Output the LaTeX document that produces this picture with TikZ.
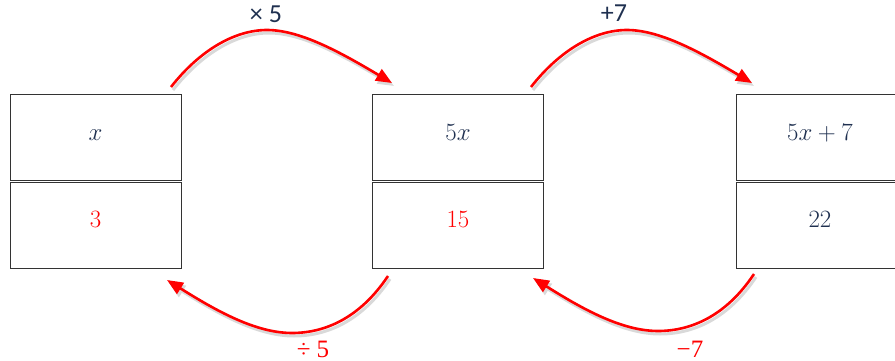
\documentclass[tikz,border=0pt]{standalone}
\usepackage{fontspec}
\usetikzlibrary{arrows.meta}
\newfontfamily\labsans{Carlito}
\newfontfamily\labserif{Liberation Serif}
\definecolor{navy}{HTML}{1F3050}
\definecolor{myred}{HTML}{FF0000}
\definecolor{boxline}{HTML}{333333}
\begin{document}
\begin{tikzpicture}[x=1pt,y=-1pt,
  cell/.style={draw=boxline,line width=1.4pt,minimum width=171pt,minimum height=86pt,inner sep=0pt,anchor=north west},
  txt/.style={anchor=base,inner sep=0pt,font=\fontsize{27}{30}\selectfont},
  labt/.style={anchor=base,inner sep=0pt,text=navy,font=\labsans\fontsize{26}{30}\selectfont},
  labb/.style={anchor=base,inner sep=0pt,text depth=0pt,text=myred,font=\labserif\fontsize{25}{30}\selectfont},
  arr/.style={draw=myred,line width=2.6pt,-{Triangle[length=16pt,width=13pt]},
    preaction={draw=black!15,line width=3pt,transform canvas={shift={(2pt,-3pt)}}}}]
\useasboundingbox (0,0) rectangle (895,361);
% boxes
\node[cell] (xa) at (10,94) {};
\node[cell] (xb) at (10,182) {};
\node[cell] (ya) at (372,94) {};
\node[cell] (yb) at (372,182) {};
\node[cell] (za) at (736,94) {};
\node[cell] (zb) at (736,182) {};
% texts
\node[txt,text=navy] (t1) at (95.5,140) {$x$};
\node[txt,text=myred] (t2) at (95.5,227) {$3$};
\node[txt,text=navy] (t3) at (458,140) {$5x$};
\node[txt,text=myred] (t4) at (458,227) {$15$};
\node[txt,text=navy] (t5) at (820,140) {$5x+7$};
\node[txt,text=navy] (t6) at (820,227) {$22$};
% labels
\node[labt] (l1) at (266,23) {× 5};
\node[labt] (l2) at (614,22) {+7};
\node[labb] (l3) at (313,357) {÷ 5};
\node[labb] (l4) at (690,357) {−7};
% arrow ends
\coordinate (a1s) at (171,87);
\coordinate (a1e) at (392,83);
\coordinate (a2s) at (531,87);
\coordinate (a2e) at (752,83);
\coordinate (a3s) at (388,276);
\coordinate (a3e) at (167,280);
\coordinate (a4s) at (754,274);
\coordinate (a4e) at (533,278);
% arrows
\draw[arr] (a1s) .. controls (200,50) and (235,30) .. (267,30) .. controls (300,30) and (340,52) .. (a1e);
\draw[arr] (a2s) .. controls (560,50) and (595,30) .. (627,30) .. controls (660,30) and (700,52) .. (a2e);
\draw[arr] (a3s) .. controls (360,318) and (325,333) .. (292,333) .. controls (255,333) and (215,310) .. (a3e);
\draw[arr] (a4s) .. controls (726,316) and (691,331) .. (658,331) .. controls (621,331) and (581,308) .. (a4e);
\end{tikzpicture}
\end{document}
